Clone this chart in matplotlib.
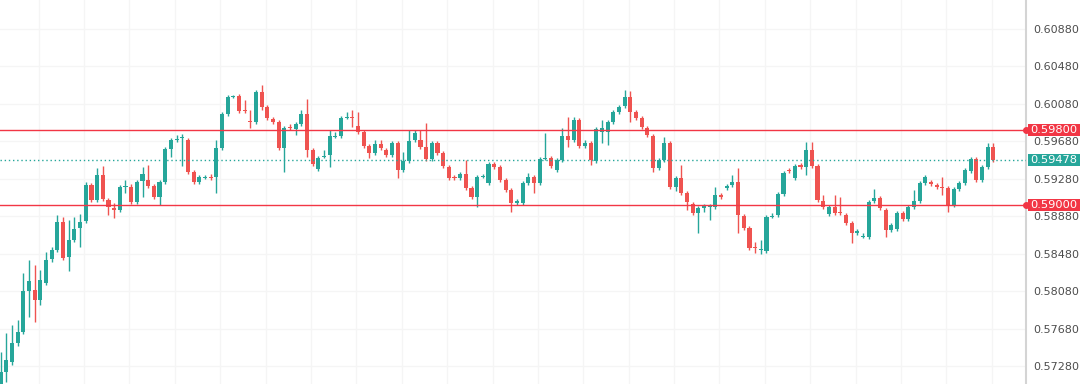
import matplotlib
matplotlib.use("Agg")
import matplotlib.pyplot as plt
import matplotlib.transforms as mtrans
from matplotlib.patches import Rectangle
from matplotlib.ticker import FormatStrFormatter
import numpy as np

opens = [
    0.57038, 0.57219, 0.57326, 0.57528, 0.57646, 0.58083, 0.58094, 0.57987, 0.58168, 0.58424,
    0.58520, 0.58819, 0.58446, 0.58627, 0.58755, 0.58830, 0.59214, 0.59054, 0.59320, 0.59054,
    0.58968, 0.58947, 0.59192, 0.59192, 0.59032, 0.59256, 0.59267, 0.59203, 0.59086, 0.59246,
    0.59598, 0.59694, 0.59715, 0.59694, 0.59352, 0.59246, 0.59288, 0.59299, 0.59299, 0.59608,
    0.59971, 0.60152, 0.60163, 0.60014, 0.59896, 0.59886, 0.60206, 0.60046, 0.59918, 0.59886,
    0.59608, 0.59832, 0.59811, 0.59864, 0.59971, 0.59587, 0.59384, 0.59512, 0.59534, 0.59726,
    0.59736, 0.59928, 0.59939, 0.59843, 0.59779, 0.59630, 0.59555, 0.59651, 0.59587, 0.59534,
    0.59662, 0.59374, 0.59470, 0.59694, 0.59694, 0.59619, 0.59491, 0.59662, 0.59555, 0.59406,
    0.59299, 0.59288, 0.59331, 0.59182, 0.59086, 0.59299, 0.59235, 0.59438, 0.59406, 0.59267,
    0.59160, 0.59022, 0.59022, 0.59235, 0.59299, 0.59235, 0.59491, 0.59502, 0.59374, 0.59480,
    0.59736, 0.59694, 0.59907, 0.59630, 0.59662, 0.59470, 0.59779, 0.59779, 0.59886, 0.59992,
    0.60056, 0.60152, 0.59992, 0.59928, 0.59822, 0.59736, 0.59395, 0.59480, 0.59662, 0.59192,
    0.59288, 0.59128, 0.59011, 0.58915, 0.58968, 0.58979, 0.58979, 0.59107, 0.59182, 0.59214,
    0.59246, 0.58883, 0.58755, 0.58552, 0.58520, 0.58510, 0.58872, 0.58894, 0.59118, 0.59374,
    0.59288, 0.59427, 0.59406, 0.59587, 0.59416, 0.59043, 0.58904, 0.58979, 0.58926, 0.58894,
    0.58808, 0.58702, 0.58659, 0.58659, 0.59043, 0.59075, 0.58947, 0.58734, 0.58744, 0.58915,
    0.58851, 0.58979, 0.59043, 0.59235, 0.59246, 0.59214, 0.59192, 0.59182, 0.59000, 0.59171,
    0.59235, 0.59363, 0.59491, 0.59267, 0.59406, 0.59619,
]
highs = [
    0.57432, 0.57635, 0.57720, 0.57774, 0.58275, 0.58414, 0.58360, 0.58307, 0.58499, 0.58552,
    0.58894, 0.58872, 0.58840, 0.58872, 0.58904, 0.59246, 0.59235, 0.59395, 0.59416, 0.59075,
    0.59022, 0.59214, 0.59267, 0.59224, 0.59267, 0.59406, 0.59427, 0.59224, 0.59267, 0.59619,
    0.59715, 0.59747, 0.59758, 0.59715, 0.59374, 0.59320, 0.59320, 0.59331, 0.59694, 0.59992,
    0.60174, 0.60174, 0.60184, 0.60120, 0.60014, 0.60227, 0.60280, 0.60067, 0.59939, 0.59907,
    0.59843, 0.59864, 0.59886, 0.60014, 0.60131, 0.59608, 0.59523, 0.59587, 0.59800, 0.59779,
    0.59950, 0.59992, 0.60014, 0.59992, 0.59800, 0.59651, 0.59694, 0.59694, 0.59608, 0.59683,
    0.59683, 0.59566, 0.59800, 0.59800, 0.59800, 0.59875, 0.59683, 0.59683, 0.59576, 0.59427,
    0.59320, 0.59352, 0.59480, 0.59203, 0.59320, 0.59331, 0.59459, 0.59459, 0.59427, 0.59288,
    0.59182, 0.59064, 0.59256, 0.59342, 0.59320, 0.59512, 0.59768, 0.59523, 0.59502, 0.59822,
    0.59939, 0.59939, 0.59928, 0.59694, 0.59683, 0.59832, 0.59907, 0.59907, 0.60014, 0.60067,
    0.60227, 0.60216, 0.60014, 0.59950, 0.59843, 0.59758, 0.59502, 0.59726, 0.59683, 0.59310,
    0.59427, 0.59150, 0.59032, 0.58990, 0.59011, 0.59011, 0.59192, 0.59128, 0.59224, 0.59320,
    0.59395, 0.58904, 0.58776, 0.58606, 0.58627, 0.58894, 0.58915, 0.59139, 0.59363, 0.59395,
    0.59438, 0.59448, 0.59672, 0.59672, 0.59438, 0.59107, 0.59000, 0.59107, 0.59086, 0.58915,
    0.58830, 0.58744, 0.58702, 0.59054, 0.59171, 0.59096, 0.58968, 0.58808, 0.58936, 0.58936,
    0.59000, 0.59160, 0.59256, 0.59320, 0.59267, 0.59235, 0.59299, 0.59203, 0.59192, 0.59256,
    0.59395, 0.59512, 0.59512, 0.59427, 0.59662, 0.59662,
]
lows = [
    0.56974, 0.57112, 0.57294, 0.57496, 0.57624, 0.57806, 0.57752, 0.57934, 0.58147, 0.58392,
    0.58499, 0.58414, 0.58296, 0.58606, 0.58552, 0.58808, 0.59032, 0.59032, 0.59043, 0.58894,
    0.58862, 0.58926, 0.59128, 0.59011, 0.59011, 0.59086, 0.59182, 0.59064, 0.59000, 0.59224,
    0.59512, 0.59672, 0.59416, 0.59331, 0.59224, 0.59224, 0.59278, 0.59267, 0.59128, 0.59587,
    0.59950, 0.60142, 0.59982, 0.59982, 0.59822, 0.59864, 0.60014, 0.59907, 0.59864, 0.59587,
    0.59352, 0.59800, 0.59747, 0.59843, 0.59512, 0.59416, 0.59363, 0.59502, 0.59406, 0.59715,
    0.59715, 0.59918, 0.59832, 0.59758, 0.59608, 0.59502, 0.59534, 0.59587, 0.59512, 0.59512,
    0.59288, 0.59352, 0.59448, 0.59672, 0.59598, 0.59470, 0.59470, 0.59534, 0.59395, 0.59267,
    0.59267, 0.59267, 0.59160, 0.59064, 0.58979, 0.59288, 0.59214, 0.59384, 0.59246, 0.59139,
    0.58926, 0.59000, 0.59000, 0.59214, 0.59128, 0.59214, 0.59480, 0.59395, 0.59352, 0.59459,
    0.59619, 0.59672, 0.59608, 0.59608, 0.59427, 0.59448, 0.59662, 0.59640, 0.59864, 0.59971,
    0.60035, 0.59886, 0.59907, 0.59811, 0.59726, 0.59352, 0.59374, 0.59459, 0.59171, 0.59150,
    0.59107, 0.58947, 0.58894, 0.58702, 0.58926, 0.58840, 0.58958, 0.59064, 0.59160, 0.59192,
    0.58702, 0.58734, 0.58520, 0.58488, 0.58478, 0.58488, 0.58862, 0.58872, 0.59096, 0.59342,
    0.59267, 0.59384, 0.59320, 0.59395, 0.59032, 0.58958, 0.58883, 0.58894, 0.58894, 0.58787,
    0.58595, 0.58680, 0.58648, 0.58638, 0.59022, 0.58947, 0.58659, 0.58712, 0.58723, 0.58830,
    0.58830, 0.58958, 0.59022, 0.59214, 0.59203, 0.59171, 0.59107, 0.58926, 0.58979, 0.59150,
    0.59214, 0.59342, 0.59246, 0.59246, 0.59384, 0.59459,
]
closes = [
    0.57219, 0.57347, 0.57528, 0.57646, 0.58083, 0.58190, 0.57987, 0.58200, 0.58414, 0.58520,
    0.58819, 0.58435, 0.58627, 0.58744, 0.58819, 0.59214, 0.59054, 0.59320, 0.59064, 0.58979,
    0.58947, 0.59192, 0.59203, 0.59032, 0.59246, 0.59331, 0.59203, 0.59086, 0.59246, 0.59598,
    0.59694, 0.59704, 0.59726, 0.59352, 0.59246, 0.59299, 0.59299, 0.59288, 0.59608, 0.59971,
    0.60152, 0.60163, 0.60003, 0.60003, 0.59886, 0.60206, 0.60046, 0.59928, 0.59886, 0.59608,
    0.59822, 0.59822, 0.59864, 0.59971, 0.59587, 0.59438, 0.59502, 0.59523, 0.59736, 0.59736,
    0.59928, 0.59939, 0.59928, 0.59779, 0.59630, 0.59555, 0.59651, 0.59608, 0.59534, 0.59662,
    0.59374, 0.59470, 0.59683, 0.59768, 0.59619, 0.59491, 0.59662, 0.59555, 0.59416, 0.59288,
    0.59288, 0.59331, 0.59182, 0.59086, 0.59299, 0.59310, 0.59438, 0.59406, 0.59267, 0.59160,
    0.59022, 0.59043, 0.59235, 0.59299, 0.59235, 0.59491, 0.59502, 0.59416, 0.59480, 0.59736,
    0.59694, 0.59907, 0.59630, 0.59662, 0.59480, 0.59811, 0.59822, 0.59886, 0.59992, 0.60046,
    0.60152, 0.59992, 0.59928, 0.59832, 0.59747, 0.59395, 0.59480, 0.59662, 0.59192, 0.59288,
    0.59128, 0.59032, 0.58915, 0.58968, 0.58990, 0.58990, 0.59107, 0.59086, 0.59203, 0.59246,
    0.58894, 0.58755, 0.58542, 0.58542, 0.58531, 0.58872, 0.58883, 0.59118, 0.59342, 0.59363,
    0.59416, 0.59406, 0.59587, 0.59416, 0.59054, 0.58979, 0.58979, 0.58915, 0.58915, 0.58808,
    0.58702, 0.58723, 0.58670, 0.59032, 0.59075, 0.58968, 0.58734, 0.58787, 0.58915, 0.58851,
    0.58979, 0.59043, 0.59235, 0.59299, 0.59224, 0.59192, 0.59182, 0.59000, 0.59171, 0.59235,
    0.59374, 0.59491, 0.59267, 0.59406, 0.59619, 0.59478,
]

price_ticks = [0.60880, 0.60480, 0.60080, 0.59680, 0.59280,
               0.58880, 0.58480, 0.58080, 0.57680, 0.57280]
resistance = 0.59800
support = 0.59000
last_price = 0.59478

TEAL = "#26a69a"
RED = "#ef5350"
LINE_RED = "#f23645"

fig = plt.figure(figsize=(10.8, 3.84), dpi=100)
fig.patch.set_facecolor("white")
ax = fig.add_axes([0, 0, 1026 / 1080, 1])

o = np.array(opens)
c = np.array(closes)
h = np.array(highs)
l = np.array(lows)
n = len(o)
idx = np.arange(n)
up = c >= o
colors = np.where(up, TEAL, RED)

# wicks
ax.vlines(idx, l, h, colors=colors, linewidth=1.0, zorder=3)
# bodies
min_h = 0.00012
body_lo = np.minimum(o, c)
body_h = np.abs(c - o)
small = body_h < min_h
body_lo = np.where(small, (o + c) / 2 - min_h / 2, body_lo)
body_h = np.where(small, min_h, body_h)
ax.bar(idx, body_h, bottom=body_lo, width=0.72, color=colors, linewidth=0, zorder=4)

ax.set_xlim(-0.124, 180.75)
ax.set_ylim(0.57091, 0.61187)

# grid
ax.set_yticks(price_ticks)
ax.yaxis.set_major_formatter(FormatStrFormatter("%.5f"))
ax.yaxis.tick_right()
ax.tick_params(axis="y", length=0, pad=5, labelsize=8, labelcolor="#4d4d4d")
ax.set_xticks(np.arange(6.7, n, 8))
ax.tick_params(axis="x", length=0, labelbottom=False)
ax.grid(True, color="#f5f5f5", linewidth=0.9, zorder=0)
ax.set_axisbelow(True)

for s in ["top", "bottom", "left"]:
    ax.spines[s].set_visible(False)
ax.spines["right"].set_color("#d4d4d4")
ax.spines["right"].set_linewidth(1.5)

# levels
ax.axhline(resistance, color=LINE_RED, linewidth=1.0, zorder=5)
ax.axhline(support, color=LINE_RED, linewidth=1.0, zorder=5)
ax.axhline(last_price, color=TEAL, linewidth=1.0, linestyle=(0, (1, 2)), zorder=5)

trans = mtrans.blended_transform_factory(ax.transAxes, ax.transData)
box_h = 11.5 / 9375
x0 = 1027.5 / 1026
x1 = 1080 / 1026
for val, col in [(resistance, LINE_RED), (support, LINE_RED), (last_price, TEAL)]:
    rect = Rectangle((x0, val - box_h / 2), x1 - x0, box_h, transform=trans,
                     facecolor=col, edgecolor="none", clip_on=False, zorder=6)
    ax.add_patch(rect)
    ax.text(x0 + 3.0 / 1026, val, f"{val:.5f}", transform=trans, color="white",
            fontsize=8.2, va="center", ha="left", clip_on=False, zorder=7)
for val in [resistance, support]:
    ax.plot([1.0], [val], marker="o", markersize=4, color=LINE_RED,
            transform=trans, clip_on=False, zorder=7)

fig.savefig("out.png", dpi=100, facecolor="white")
